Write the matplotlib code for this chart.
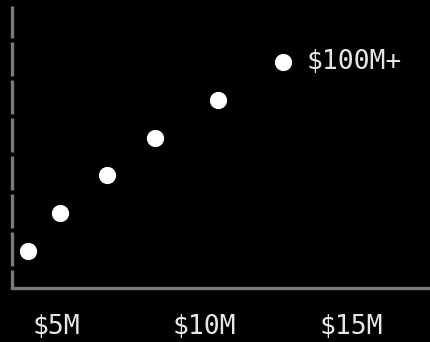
#!/usr/bin/env python3
import matplotlib
matplotlib.use("Agg")
import matplotlib.pyplot as plt

# revenue tiers ($M) and their rank on the vertical
revenue = [4.03, 5.12, 6.71, 8.34, 10.47, 12.68]
tier = [1, 2, 3, 4, 5, 6]
top_label = "$100M+"
tick_vals = [5, 10, 15]
tick_labels = ["$5M", "$10M", "$15M"]

fig = plt.figure(figsize=(4.3, 3.42), dpi=100, facecolor="black")
ax = fig.add_axes([12 / 430, 54 / 342, 1 - 12 / 430, 282 / 342])
ax.set_facecolor("black")

ax.scatter(revenue, tier, s=130, color="white", zorder=3, clip_on=False)
ax.text(revenue[-1] + 0.8, tier[-1], top_label, color="#e6e6e6",
        fontsize=19, family="DejaVu Sans Mono", va="center", ha="left")

ax.set_xlim(3.49, 17.66)
ax.set_ylim(0.02, 7.48)
ax.set_xticks(tick_vals)
ax.set_xticklabels(tick_labels, family="DejaVu Sans Mono", fontsize=19,
                   color="#e6e6e6")
ax.tick_params(axis="x", length=0, pad=19)
ax.set_yticks([])

for side in ["top", "right"]:
    ax.spines[side].set_visible(False)
ax.spines["bottom"].set_color("#7a7a7a")
ax.spines["bottom"].set_linewidth(2.4)
left = ax.spines["left"]
left.set_color("#7a7a7a")
left.set_linewidth(2.4)
left.set_capstyle("butt")
# dash pattern in px: 34 on, 4 off (0.72 pt per px)
lw = 2.4
left.set_linestyle((16 * 0.72 / lw, (34 * 0.72 / lw, 4 * 0.72 / lw)))

fig.savefig("out.png", dpi=100, facecolor="black")
